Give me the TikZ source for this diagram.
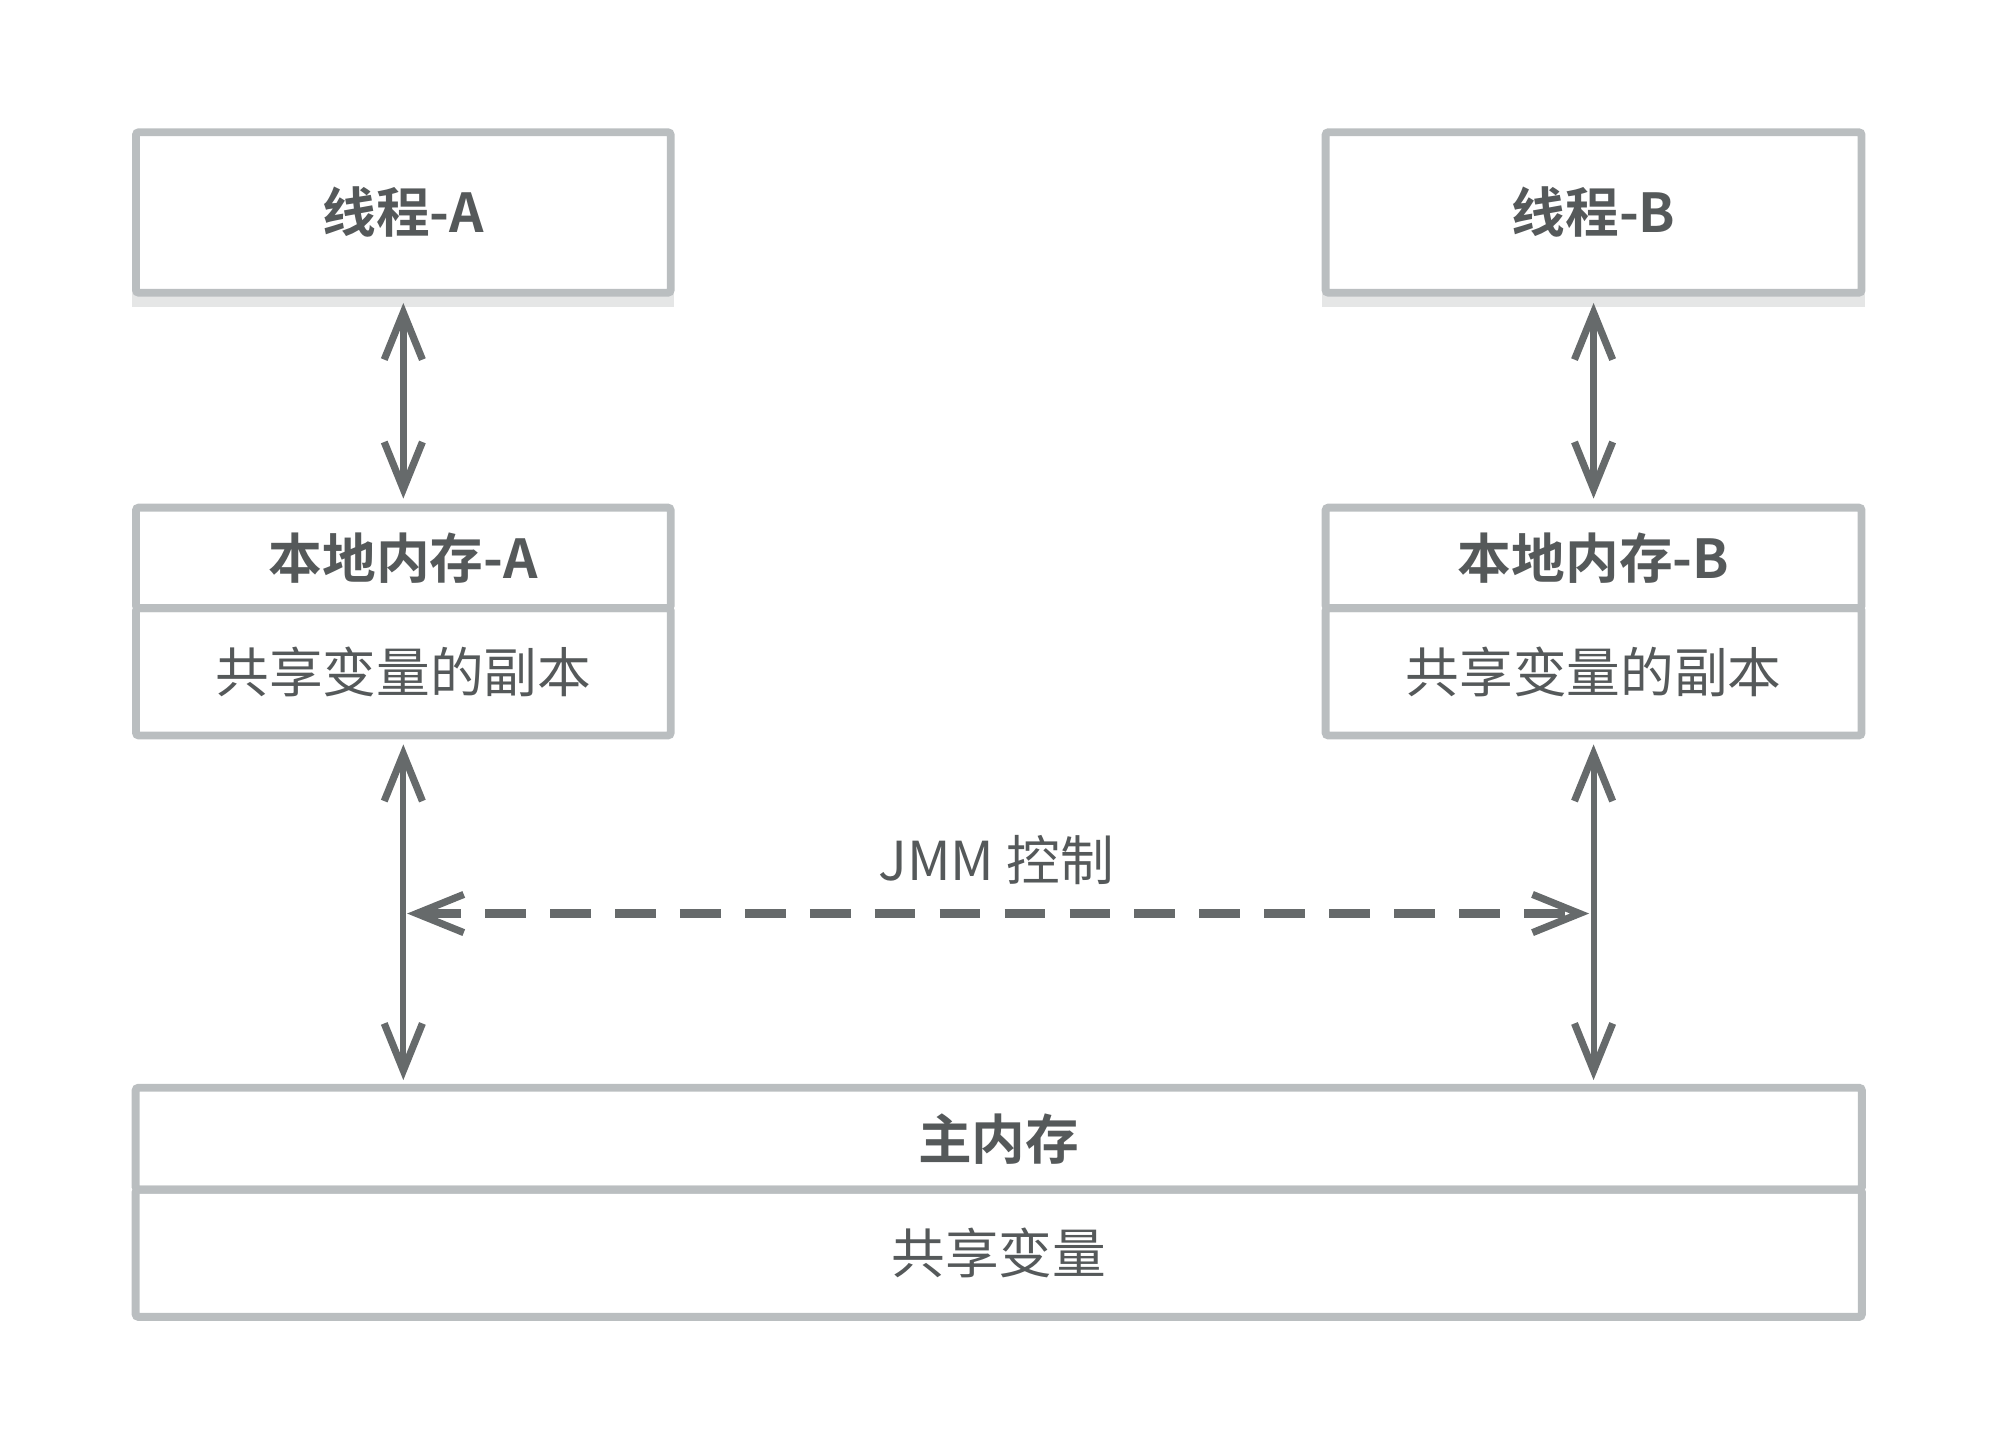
\documentclass[tikz,border=0pt]{standalone}
\usepackage{fontspec}
\setmainfont{Noto Sans CJK SC}[BoldFont={Noto Sans CJK SC Bold}]
\usetikzlibrary{arrows.meta}
\definecolor{boxc}{HTML}{BABEC0}
\definecolor{arrc}{HTML}{666A6B}
\definecolor{txtc}{HTML}{55595A}
\definecolor{shadc}{HTML}{E5E6E6}
\begin{document}
\begin{tikzpicture}[x=0.01cm,y=-0.01cm,
  boxpart/.style={draw=boxc, line width=1.75pt, rectangle, inner sep=0pt, rounded corners=0.6pt,
    text=txtc, font=\fontsize{12pt}{14pt}\selectfont},
  ttl/.style={boxpart, font=\fontsize{12pt}{14pt}\selectfont\bfseries},
  barb/.tip={Straight Barb[length=0.37cm, width=0.3cm, line width=1.6pt]},
  conn/.style={arrc, line width=1.7pt, barb-barb},
  conn2/.style={arrc, line width=1.35pt, barb-barb},
  dconn/.style={arrc, line width=2.0pt, dash pattern=on 0.32cm off 0.19cm, barb-barb},
  lbl/.style={text=txtc, font=\fontsize{12pt}{14pt}\selectfont, inner sep=0pt}
]
\useasboundingbox (0,0) rectangle (1568,1139);

% shadows under thread boxes
\fill[shadc] (104,228) rectangle (530,241);
\fill[shadc] (1039,228) rectangle (1466,241);

% thread boxes
\node[ttl, fill=white, minimum width=4.2cm, minimum height=1.26cm] (tA) at (317,167) {线程-A};
\node[ttl, fill=white, minimum width=4.21cm, minimum height=1.26cm] (tB) at (1252.5,167) {线程-B};

% local memory A
\node[ttl, minimum width=4.2cm, minimum height=0.79cm] (lAt) at (317,438.5) {本地内存-A};
\node[boxpart, minimum width=4.2cm, minimum height=1.0cm] (lAb) at (317,528) {共享变量的副本};

% local memory B
\node[ttl, minimum width=4.21cm, minimum height=0.79cm] (lBt) at (1252.5,438.5) {本地内存-B};
\node[boxpart, minimum width=4.21cm, minimum height=1.0cm] (lBb) at (1252.5,528) {共享变量的副本};

% main memory
\node[ttl, minimum width=13.56cm, minimum height=0.8cm] (mt) at (785,895) {主内存};
\node[boxpart, minimum width=13.56cm, minimum height=1.0cm] (mb) at (785,985) {共享变量};

% connectors thread <-> local
\draw[conn, shorten <=0.05cm, shorten >=0.04cm] (tA.south) -- (lAt.north);
\draw[conn, shorten <=0.05cm, shorten >=0.04cm] (tB.south) -- (lBt.north);

% connectors local <-> main
\draw[conn2, shorten <=0.04cm, shorten >=0.03cm] (lAb.south) -- (lAb.south |- mt.north);
\draw[conn2, shorten <=0.04cm, shorten >=0.03cm] (lBb.south) -- (lBb.south |- mt.north);

% JMM dashed control
\coordinate (jL) at (318,718);
\coordinate (jR) at (1251,718);
\draw[dconn, shorten <=0.02cm, shorten >=0.02cm] (jL) -- (jR);
\node[lbl] (jmm) at (783,676) {JMM 控制};
\end{tikzpicture}
\end{document}
